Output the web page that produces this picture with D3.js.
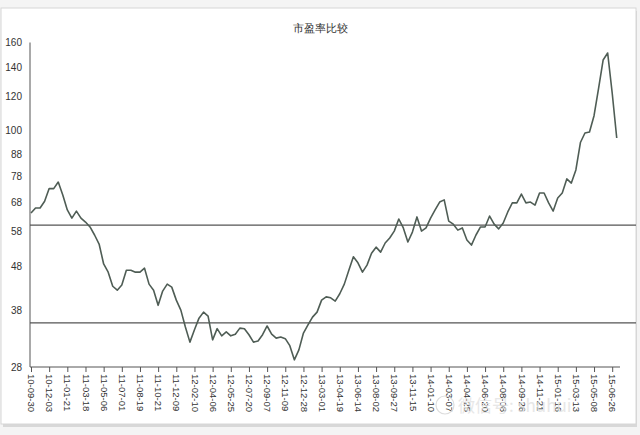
<!DOCTYPE html>
<html><head><meta charset="utf-8">
<script src="https://cdn.jsdelivr.net/npm/d3@7/dist/d3.min.js"></script>
<style>body{margin:0;background:#f4f4f4;}svg{display:block;}</style>
</head><body>
<script>
const title = "市盈率比较";
const yTicks = [28, 38, 48, 58, 68, 78, 88, 100, 120, 140, 160];
const refLines = [60, 35.5];
const xLabels = ["10-09-30","10-12-03","11-01-21","11-03-18","11-05-06","11-07-01","11-08-19","11-10-21","11-12-09","12-02-10","12-04-06","12-05-25","12-07-20","12-09-07","12-11-09","12-12-28","13-03-01","13-04-19","13-06-14","13-08-02","13-09-27","13-11-15","14-01-10","14-03-07","14-04-25","14-06-20","14-08-08","14-09-26","14-11-21","15-01-16","15-03-13","15-05-08","15-06-26"];
const pointsPerLabel = 4;
const pe = [64.0,65.8,65.8,68.2,73.0,73.0,75.6,70.5,65.1,62.3,
64.7,62.3,61.0,59.4,56.9,54.2,48.7,46.6,43.2,42.3,
43.5,47.1,47.1,46.6,46.6,47.6,43.7,42.3,39.0,42.1,
43.7,43.0,40.1,38.0,34.7,32.0,34.2,36.4,37.6,36.8,
32.4,34.4,33.1,33.8,33.1,33.4,34.5,34.4,33.3,32.0,
32.2,33.3,34.9,33.4,32.7,32.9,32.6,31.4,29.1,30.7,
33.6,35.1,36.6,37.6,40.1,40.8,40.6,39.9,41.5,43.7,
47.1,50.6,49.0,46.6,48.4,51.6,53.3,51.9,54.5,56.0,
58.1,62.0,59.1,54.8,57.8,62.7,58.1,59.1,62.3,65.1,
67.9,68.7,61.3,60.3,58.4,59.1,55.4,53.9,56.9,59.4,
59.4,63.0,60.3,58.8,60.7,64.4,67.6,67.6,70.9,67.6,
67.9,66.8,71.3,71.3,67.6,64.7,69.4,71.3,76.9,75.2,
80.7,93.5,98.4,98.9,108,125,145.6,151.2,122,95.8];

const W = 640, H = 435;
const svg = d3.select("body").append("svg").attr("width", W).attr("height", H);

// card
svg.append("rect").attr("x", 3).attr("y", 11).attr("width", 634).attr("height", 416).attr("fill", "#bbb").attr("opacity", 0.5);
svg.append("rect").attr("x", 1).attr("y", 8).attr("width", 635).attr("height", 416)
  .attr("fill", "#fff").attr("stroke", "#d6d6d6");

const x = d3.scaleLinear().domain([0, (xLabels.length - 1) * pointsPerLabel]).range([31, 612.2]);
const y = d3.scaleLog().domain([28, 160]).range([367, 42.5]);

const axisColor = "#555";
const font = "'Liberation Sans', Arial, sans-serif";

// title
svg.append("text").attr("x", 320).attr("y", 32).attr("text-anchor", "middle")
  .attr("font-family", font).attr("font-size", 11).attr("fill", "#333").text(title);

// y axis
const yAxis = d3.axisLeft(y).tickValues(yTicks).tickSize(0).tickPadding(8).tickFormat(d3.format("d"));
const gy = svg.append("g").attr("transform", "translate(30,0)").call(yAxis);
gy.select(".domain").attr("stroke", axisColor).attr("d", "M0," + y(160) + "V" + y(28));
gy.selectAll("text").attr("font-family", font).attr("font-size", 10).attr("fill", "#333");

// x axis
const xAxis = d3.axisBottom(x).tickValues(xLabels.map((d, i) => i * pointsPerLabel))
  .tickSize(5).tickFormat((d) => xLabels[d / pointsPerLabel]);
const gx = svg.append("g").attr("transform", "translate(0,367)").call(xAxis);
gx.select(".domain").attr("stroke", axisColor).attr("d", "M30,0H620");
gx.selectAll(".tick line").attr("stroke", axisColor);
gx.selectAll("text").attr("font-family", font).attr("font-size", 9.5).attr("fill", "#333")
  .attr("transform", "rotate(90)").attr("text-anchor", "start")
  .attr("x", 7).attr("y", 0).attr("dy", "0.35em");

// reference lines
svg.selectAll(".ref").data(refLines).join("line").attr("class", "ref")
  .attr("x1", 30).attr("x2", 636).attr("y1", d => y(d)).attr("y2", d => y(d))
  .attr("stroke", "#555").attr("stroke-width", 1.2);

// series
const line = d3.line().x((d, i) => x(i)).y(d => y(d));
svg.append("path").datum(pe).attr("d", line).attr("fill", "none")
  .attr("stroke", "#4f5d55").attr("stroke-width", 1.6).attr("stroke-linejoin", "round");

// watermark
svg.append("circle").attr("cx", 445).attr("cy", 405).attr("r", 9).attr("fill", "none").attr("stroke", "#ddd").attr("stroke-width", 1.2);
svg.append("text").attr("x", 458).attr("y", 412).attr("font-family", "'Noto Sans CJK SC', sans-serif")
  .attr("font-size", 17).attr("fill", "#e2e2e2").attr("opacity", 0.8).text("微信号: shuhui");
</script>
</body></html>
